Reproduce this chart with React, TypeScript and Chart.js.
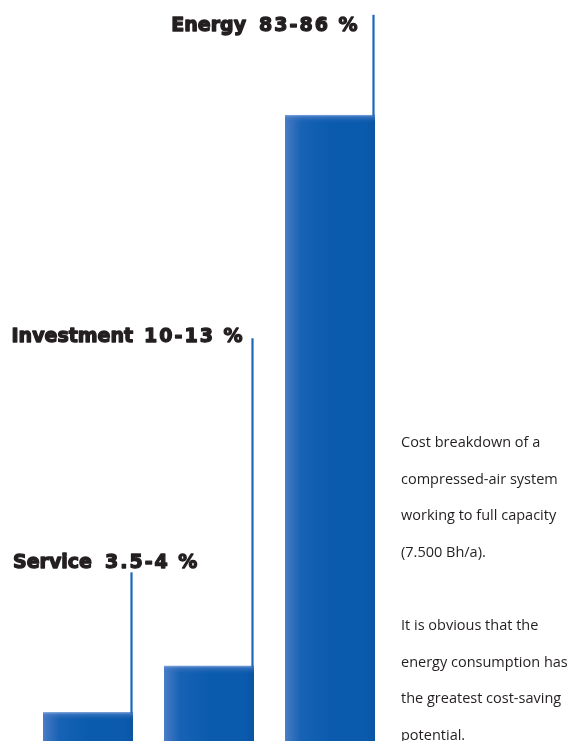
import React, { useEffect, useRef } from "react";
import { Chart, registerables } from "chart.js";

Chart.register(...registerables);

const categories = ["Service", "Investment", "Energy"];
const rangeLabels = ["3.5-4 %", "10-13 %", "83-86 %"];
const shareValues = [3.9, 10.2, 85];
// top of each leader line, in axis units (percent)
const leaderTops = [22.9, 54.7, 98.6];

const noteLines1 = [
  "Cost breakdown of a",
  "compressed-air system",
  "working to full capacity",
  "(7.500 Bh/a).",
];
const noteLines2 = [
  "It is obvious that the",
  "energy consumption has",
  "the greatest cost-saving",
  "potential.",
];

const TEXT = "#231f20";
const LINE = "#1c67b9";

function heavyText(ctx: any, t: string, x: number, y: number) {
  ctx.lineJoin = "round";
  ctx.lineWidth = 1.3;
  ctx.strokeStyle = TEXT;
  ctx.strokeText(t, x, y);
  ctx.fillText(t, x, y);
}

const overlay = {
  id: "overlay",
  afterDatasetsDraw(chart: any) {
    const ctx = chart.ctx;
    const meta = chart.getDatasetMeta(0);
    const yS = chart.scales.y;
    meta.data.forEach((el: any, i: number) => {
      const { x, y, base, width } = el.getProps(["x", "y", "base", "width"], true);
      const l = x - width / 2;
      const r = x + width / 2;
      ctx.save();
      const g = ctx.createLinearGradient(l, 0, r, 0);
      g.addColorStop(0, "#4a7fc6");
      g.addColorStop(0.05, "#3b74c0");
      g.addColorStop(0.18, "#1762b4");
      g.addColorStop(0.5, "#0a5bae");
      g.addColorStop(0.9, "#0a5aad");
      g.addColorStop(1, "#0b54a3");
      ctx.fillStyle = g;
      ctx.fillRect(l, y, width, base - y);
      const h = ctx.createLinearGradient(0, y, 0, y + 8);
      h.addColorStop(0, "rgba(140,175,225,0.9)");
      h.addColorStop(0.25, "rgba(90,135,205,0.5)");
      h.addColorStop(1, "rgba(40,100,180,0)");
      ctx.fillStyle = h;
      ctx.fillRect(l, y, width, 8);
      // leader line
      const lx = r - 1.5;
      const top = yS.getPixelForValue(leaderTops[i]);
      ctx.strokeStyle = LINE;
      ctx.lineWidth = 2.2;
      ctx.beginPath();
      ctx.moveTo(lx, top);
      ctx.lineTo(lx, y + 1);
      ctx.stroke();
      // label
      ctx.fillStyle = TEXT;
      ctx.textBaseline = "alphabetic";
      ctx.font = "bold 19px 'DejaVu Sans'";
      (ctx as any).letterSpacing = "0px";
      const name = categories[i];
      const nameW = ctx.measureText(name).width;
      (ctx as any).letterSpacing = "2px";
      const val = rangeLabels[i];
      const valW = ctx.measureText(val).width - 2;
      const gap = i === 1 ? 11 : 13;
      const total = nameW + gap + valW;
      let startX: number;
      let baseY: number;
      if (i === 0) {
        startX = 13;
        baseY = top - 4;
      } else {
        startX = lx - (i === 2 ? 16 : 10) - total;
        baseY = top + (i === 2 ? 16 : 4);
      }
      (ctx as any).letterSpacing = "0px";
      heavyText(ctx, name, startX, baseY);
      (ctx as any).letterSpacing = "2px";
      heavyText(ctx, val, startX + nameW + gap, baseY);
      ctx.restore();
    });
    // notes
    ctx.save();
    ctx.fillStyle = TEXT;
    ctx.font = "14.5px 'Open Sans'";
    ctx.textBaseline = "alphabetic";
    const lh = 36.7;
    noteLines1.forEach((t, k) => ctx.fillText(t, 401, 447 + k * lh));
    noteLines2.forEach((t, k) => ctx.fillText(t, 401, 630 + k * lh));
    ctx.restore();
  },
};

export default function App() {
  const ref = useRef<HTMLCanvasElement>(null);
  useEffect(() => {
    if (!ref.current) return;
    const chart = new Chart(ref.current, {
      type: "bar",
      data: {
        labels: categories,
        datasets: [
          {
            data: shareValues,
            backgroundColor: "rgba(0,0,0,0)",
            borderWidth: 0,
            barThickness: 90,
          },
        ],
      },
      options: {
        animation: false,
        responsive: true,
        maintainAspectRatio: false,
        layout: { padding: { left: 27.5, right: 181.5, top: 4.5, bottom: 0 } },
        plugins: { legend: { display: false }, tooltip: { enabled: false } },
        scales: {
          x: { display: false },
          y: { display: false, min: 0, max: 100 },
        },
      },
      plugins: [overlay],
    });
    return () => chart.destroy();
  }, []);
  return (
    <div style={{ position: "fixed", left: 0, top: 0, width: 572, height: 741, background: "#fff" }}>
      <canvas ref={ref} />
    </div>
  );
}
